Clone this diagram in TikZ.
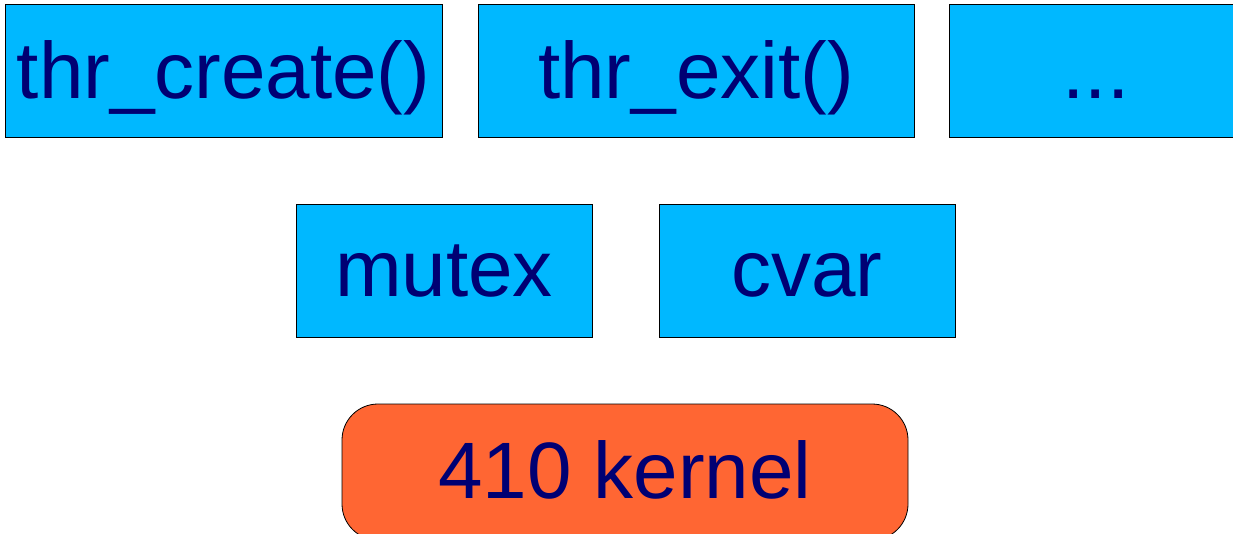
\documentclass[tikz,border=0pt]{standalone}
\usepackage{fontspec}
\setmainfont{Liberation Sans}
\definecolor{boxcyan}{HTML}{00B8FF}
\definecolor{txtnavy}{HTML}{000073}
\definecolor{kernorange}{HTML}{FF6633}
\begin{document}
\begin{tikzpicture}[x=1pt,y=-1pt,
  lbl/.style={text=txtnavy,font=\fontsize{80}{80}\selectfont,anchor=base,inner sep=0pt},
  cbox/.style={draw=black,line width=0.8pt,fill=boxcyan},
  kbox/.style={draw=black,line width=0.8pt,fill=kernorange,rounded corners=36pt}]
\useasboundingbox (0,0) rectangle (1233,534);
\begin{scope}
\clip (0,0) rectangle (1233,534);
\draw[cbox] (5,4) rectangle (442,137);
\draw[cbox] (478,4) rectangle (914,137);
\draw[cbox] (949,4) rectangle (1260,137);
\draw[cbox] (296,204) rectangle (592,337);
\draw[cbox] (659,204) rectangle (955,337);
\draw[kbox] (342,404) rectangle (908,540);
\end{scope}
\node[lbl] (create) at (223.5,99) {thr\_create()};
\node[lbl] (exit) at (696,99) {thr\_exit()};
\node[lbl] (more) at (1096,99) {...};
\node[lbl] (mutex) at (444,297) {mutex};
\node[lbl] (cvar) at (807,297) {cvar};
\node[lbl] (kernel) at (625,498) {410 kernel};
\end{tikzpicture}
\end{document}
